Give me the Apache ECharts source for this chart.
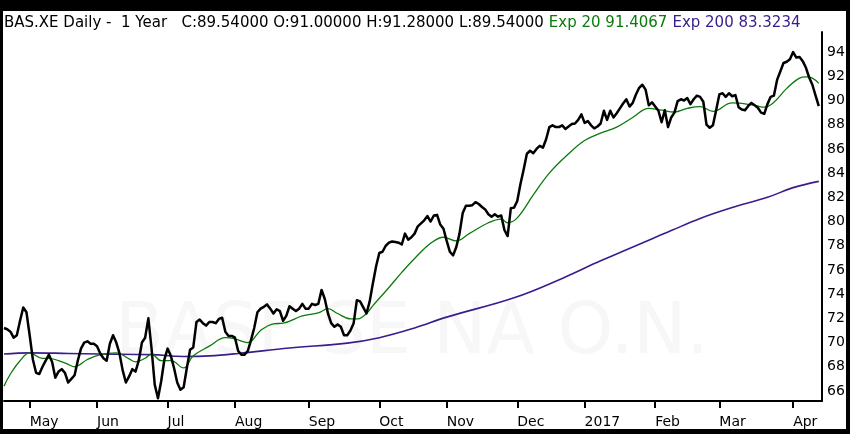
<!DOCTYPE html>
<html>
<head>
<meta charset="utf-8">
<script src="https://cdn.jsdelivr.net/npm/echarts@6/dist/echarts.min.js"></script>
<style>
  html, body { margin: 0; padding: 0; background: #fff; }
  #main { position: absolute; left: 0; top: 0; width: 850px; height: 434px; }
  #frame { position: absolute; left: 0; top: 0; width: 850px; height: 434px;
           box-sizing: border-box; border-style: solid; border-color: #000;
           border-width: 11px 4px 5px 3px; pointer-events: none; }
</style>
</head>
<body>
<div id="main"></div>
<div id="frame"></div>
<script>
    // header values
    var symbolText = 'BAS.XE Daily -  1 Year   C:89.54000 O:91.00000 H:91.28000 L:89.54000';
    var ema20Text = 'Exp 20 91.4067';
    var ema200Text = 'Exp 200 83.3234';
    var watermark = 'BASF SE NA O.N.';

    // month labels, one per block of closes below ('' = partial month, no tick)
    var monthLabels = ['', 'May', 'Jun', 'Jul', 'Aug', 'Sep', 'Oct', 'Nov', 'Dec', '2017', 'Feb', 'Mar', 'Apr'];

    // daily closes
    var apr16 = [71.2, 71.1, 70.9, 70.4, 70.6, 71.8, 72.9, 72.5];
    var may16 = [70.6, 68.6, 67.5, 67.4, 68.0, 68.5, 69.0, 68.4, 67.1, 67.6, 67.8, 67.5, 66.7, 67.0, 67.3, 68.5, 69.5, 70.0, 70.1, 69.9, 69.9];
    var jun16 = [69.7, 69.1, 68.7, 68.5, 69.9, 70.6, 70.0, 69.1, 67.7, 66.7, 67.2, 67.8, 67.6, 68.5, 70.0, 70.4, 72.0, 69.5, 66.5, 65.4, 66.8, 68.6];
    var jul16 = [69.5, 68.9, 67.9, 66.7, 66.1, 66.3, 67.9, 69.4, 69.6, 71.7, 71.9, 71.6, 71.4, 71.7, 71.7, 71.6, 71.95, 72.05, 70.9, 70.55, 70.55];
    var aug16 = [70.4, 69.3, 69.0, 69.0, 69.3, 70.2, 71.2, 72.5, 72.8, 72.95, 73.15, 72.8, 72.4, 72.75, 72.6, 71.8, 72.2, 73.0, 72.8, 72.6, 72.8, 73.2, 72.8];
    var sep16 = [72.8, 73.2, 73.1, 73.2, 74.35, 73.6, 72.4, 71.6, 71.3, 71.5, 71.3, 70.6, 70.6, 71.0, 71.6, 73.5, 73.4, 72.9, 72.4, 73.4, 74.9, 76.3];
    var oct16 = [77.4, 77.5, 78.0, 78.25, 78.35, 78.3, 78.25, 78.1, 79.0, 78.5, 78.7, 79.0, 79.6, 79.85, 80.1, 80.45, 80.0, 80.5, 80.55, 79.75, 79.4];
    var nov16 = [78.4, 77.5, 77.2, 77.9, 79.0, 80.7, 81.3, 81.3, 81.35, 81.6, 81.45, 81.2, 81.0, 80.6, 80.4, 80.6, 80.4, 80.5, 79.3, 78.8, 81.1, 81.15];
    var dec16 = [81.7, 83.1, 84.3, 85.6, 85.85, 85.65, 86.0, 86.25, 86.1, 86.8, 87.8, 87.95, 87.8, 87.8, 87.95, 87.65, 87.85, 88.05, 88.1, 88.4, 88.85];
    var jan17 = [88.15, 88.3, 87.95, 87.7, 87.85, 88.1, 89.15, 88.4, 89.15, 88.6, 88.95, 89.35, 89.75, 90.1, 89.5, 89.8, 90.5, 91.05, 91.3, 90.9, 89.6, 89.85];
    var feb17 = [89.5, 89.15, 88.2, 89.2, 87.8, 88.6, 89.0, 89.95, 90.1, 90.0, 90.2, 89.7, 90.1, 90.4, 90.3, 89.9, 88.0, 87.75, 87.95, 89.2];
    var mar17 = [90.5, 90.6, 90.3, 90.6, 90.35, 90.45, 89.45, 89.25, 89.2, 89.55, 89.8, 89.6, 89.4, 89.0, 88.9, 89.7, 90.3, 90.4, 91.7, 92.4, 93.1, 93.2, 93.4];
    var apr17 = [94.0, 93.55, 93.6, 93.25, 92.7, 91.9, 91.3, 90.4, 89.54];

    // moving averages: [day index, value]
    var ema20 = [[0, 66.4], [2, 67.4], [5, 68.5], [8, 69.15], [12, 68.7], [14, 68.7], [17, 68.5], [20, 68.2], [22, 68.0],
        [26, 68.6], [30, 69.0], [35, 69.15], [39, 68.65], [41, 68.4], [44, 68.7], [46, 69.05], [49, 68.5], [52, 68.5],
        [56, 67.9], [59, 68.9], [64, 69.7], [69, 70.4], [72, 70.3], [76, 70.0], [80, 71.0], [84, 71.55], [87, 71.6],
        [93, 72.2], [98, 72.45], [101, 72.8], [104, 72.4], [108, 71.95], [110, 71.95], [113, 72.4], [115, 73.05],
        [120, 74.55], [124, 75.8], [128, 76.95], [133, 78.2], [137, 78.7], [141, 78.4], [145, 79.0], [151, 79.9],
        [155, 80.2], [157, 79.9], [160, 80.3], [165, 82.2], [170, 84.0], [176, 85.6], [181, 86.7], [186, 87.3],
        [191, 87.8], [196, 88.6], [201, 89.35], [205, 89.2], [209, 89.05], [213, 89.35], [217, 89.5], [221, 89.1],
        [227, 89.8], [234, 89.6], [237, 89.45], [240, 89.85], [244, 91.0], [248, 91.85], [250, 91.95], [252, 91.85],
        [254, 91.41]];
    var ema200 = [[0, 69.05], [8, 69.15], [20, 69.1], [30, 69.05], [46, 69.0], [56, 68.85], [64, 68.9], [73, 69.1],
        [89, 69.55], [107, 69.95], [117, 70.4], [128, 71.2], [138, 72.1], [159, 73.7], [174, 75.3], [186, 76.75],
        [208, 79.25], [217, 80.25], [227, 81.15], [238, 82.0], [246, 82.8], [254, 83.32]];

    var yTicks = [66, 68, 70, 72, 74, 76, 78, 80, 82, 84, 86, 88, 90, 92, 94];

    var blocks = [apr16, may16, jun16, jul16, aug16, sep16, oct16, nov16, dec16, jan17, feb17, mar17, apr17];
    var days = [];
    var closes = [];
    var monthStart = {};
    blocks.forEach(function (block, m) {
        block.forEach(function (v, d) {
            if (d === 0 && monthLabels[m] !== '') monthStart[days.length] = monthLabels[m];
            days.push(m + '-' + d);
            closes.push(v);
        });
    });
    days.push('end');  // small gap before the price axis

    var font = 'DejaVu Sans';
    var chart = echarts.init(document.getElementById('main'), null, {renderer: 'canvas'});

    var option = {
        animation: false,
        backgroundColor: '#fff',
        title: {
            left: 4,
            top: 14,
            padding: 0,
            text: '{a|' + symbolText + '} {g|' + ema20Text + '} {p|' + ema200Text + '}',
            textStyle: {
                fontWeight: 'normal',
                rich: {
                    a: {fontFamily: font, fontSize: 15, fontWeight: 'normal', color: '#000'},
                    g: {fontFamily: font, fontSize: 15, fontWeight: 'normal', color: '#0b7a0b'},
                    p: {fontFamily: font, fontSize: 15, fontWeight: 'normal', color: '#3a1c8c'}
                }
            }
        },
        graphic: [{
            type: 'text',
            x: 412,
            y: 335,
            z: -10,
            silent: true,
            style: {
                text: watermark, fontFamily: font, fontSize: 71, fill: '#f7f7f7',
                textAlign: 'center', textVerticalAlign: 'middle'
            }
        }],
        grid: {left: 4, right: 28, top: 32, bottom: 33},
        xAxis: {
            type: 'category',
            boundaryGap: false,
            data: days,
            axisLine: {lineStyle: {color: '#000', width: 2}},
            axisTick: {
                length: 7,
                lineStyle: {color: '#000', width: 2},
                interval: function (i) { return monthStart[i] !== undefined; }
            },
            axisLabel: {
                interval: function (i) { return monthStart[i] !== undefined; },
                formatter: function (v, i) { return monthStart[i] || ''; },
                align: 'left',
                margin: 14,
                color: '#000',
                fontFamily: font,
                fontSize: 14
            },
            splitLine: {show: false}
        },
        yAxis: {
            type: 'value',
            position: 'right',
            min: 65.17,
            max: 95.66,
            axisLine: {show: true, lineStyle: {color: '#000', width: 2}},
            axisTick: {show: false},
            splitLine: {show: false},
            axisLabel: {
                customValues: yTicks,
                margin: 5,
                color: '#000',
                fontFamily: font,
                fontSize: 14
            }
        },
        series: [
            {
                name: 'EMA200',
                type: 'line',
                data: ema200,
                smooth: 0.4,
                symbol: 'none',
                lineStyle: {color: '#3a1c8c', width: 1.6}
            },
            {
                name: 'EMA20',
                type: 'line',
                data: ema20,
                smooth: 0.4,
                symbol: 'none',
                lineStyle: {color: '#0b7a0b', width: 1.3}
            },
            {
                name: 'Close',
                type: 'line',
                data: closes,
                symbol: 'none',
                lineStyle: {color: '#000', width: 2.5, join: 'round'}
            }
        ]
    };

    chart.setOption(option);
</script>
</body>
</html>
